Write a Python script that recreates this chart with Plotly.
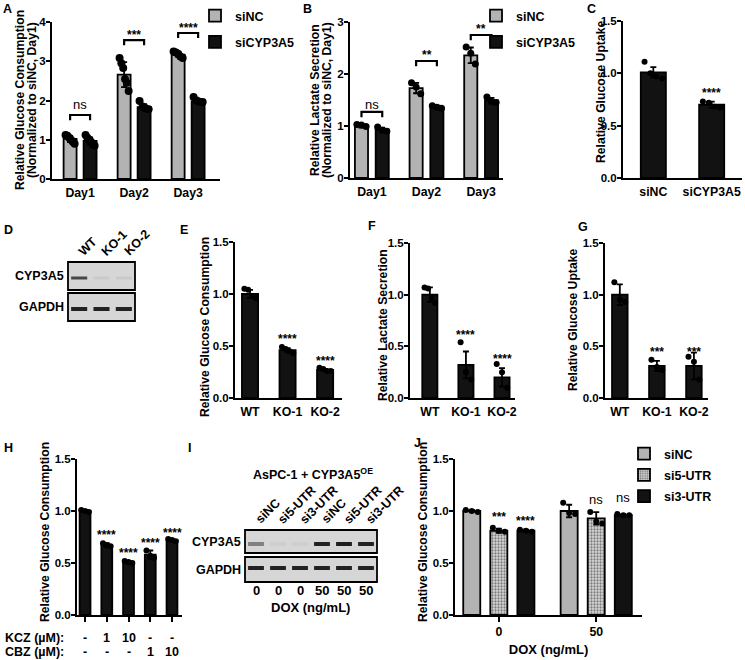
import plotly.graph_objects as go

W, H = 745, 660
FONT = "Arial, 'Liberation Sans', Helvetica, sans-serif"
GRAY = "#b3b3b3"
BLACK = "#121212"

# ---------------- data ----------------
A_days = ["Day1", "Day2", "Day3"]
A_siNC_mean = [1.02, 2.66, 3.17]
A_siNC_sd = [0.08, 0.32, 0.06]
A_siNC_pts = [[1.12, 1.10, 1.05, 1.00, 0.95, 0.90],
              [3.08, 2.95, 2.83, 2.55, 2.45, 2.24],
              [3.25, 3.22, 3.19, 3.12, 3.08]]
A_siCYP_mean = [0.97, 1.83, 1.98]
A_siCYP_sd = [0.09, 0.08, 0.05]
A_siCYP_pts = [[1.12, 1.05, 1.00, 0.95, 0.88, 0.85],
               [1.99, 1.85, 1.80, 1.78],
               [2.09, 2.00, 1.97, 1.96]]
A_sig = ["ns", "***", "****"]

B_days = ["Day1", "Day2", "Day3"]
B_siNC_mean = [1.00, 1.73, 2.36]
B_siNC_sd = [0.03, 0.10, 0.15]
B_siNC_pts = [[1.03, 1.02, 0.99], [1.83, 1.75, 1.62], [2.52, 2.40, 2.19]]
B_siCYP_mean = [0.93, 1.36, 1.49]
B_siCYP_sd = [0.04, 0.03, 0.05]
B_siCYP_pts = [[0.98, 0.92, 0.90], [1.39, 1.36, 1.34], [1.56, 1.47, 1.45]]
B_sig = ["ns", "**", "**"]

C_groups = ["siNC", "siCYP3A5"]
C_mean = [1.01, 0.70]
C_sd = [0.05, 0.03]
C_pts = [[1.11, 1.00, 0.97, 0.95], [0.73, 0.72, 0.68, 0.67]]
C_sig = ["", "****"]

KO_groups = ["WT", "KO-1", "KO-2"]
E_mean = [1.00, 0.46, 0.27]
E_sd = [0.04, 0.02, 0.01]
E_pts = [[1.05, 1.04, 0.98, 0.96], [0.49, 0.47, 0.45, 0.43], [0.29, 0.28, 0.26, 0.26]]
E_sig = ["", "****", "****"]

F_mean = [1.00, 0.32, 0.20]
F_sd = [0.07, 0.13, 0.09]
F_pts = [[1.07, 1.06, 0.97, 0.92], [0.54, 0.25, 0.18], [0.33, 0.25, 0.10]]
F_sig = ["", "****", "****"]

G_mean = [1.00, 0.31, 0.31]
G_sd = [0.10, 0.05, 0.13]
G_pts = [[1.12, 0.95, 0.93], [0.37, 0.30, 0.27], [0.40, 0.35, 0.18]]
G_sig = ["", "***", "***"]

H_mean = [1.00, 0.67, 0.51, 0.58, 0.72]
H_sd = [0.01, 0.02, 0.01, 0.04, 0.01]
H_pts = [[1.01, 1.00, 0.99], [0.69, 0.67, 0.66], [0.52, 0.51, 0.50],
         [0.62, 0.57, 0.55], [0.73, 0.72, 0.71]]
H_sig = ["", "****", "****", "****", "****"]
H_KCZ = ["-", "1", "10", "-", "-"]
H_CBZ = ["-", "-", "-", "1", "10"]

J_dox = ["0", "50"]
J_series = ["siNC", "si5-UTR", "si3-UTR"]
J_mean = [[1.00, 1.00], [0.81, 0.93], [0.81, 0.96]]
J_sd = [[0.01, 0.06], [0.02, 0.06], [0.01, 0.01]]
J_pts = [[[1.01, 1.00, 0.99], [1.08, 0.98, 0.97]],
         [[0.84, 0.81, 0.80], [0.99, 0.90, 0.88]],
         [[0.82, 0.81, 0.80], [0.97, 0.96, 0.96]]]
J_sig = [["", ""], ["***", "ns"], ["****", "ns"]]

D_lanes = ["WT", "KO-1", "KO-2"]
D_rows = ["CYP3A5", "GAPDH"]
D_bands = [[0.75, 0.06, 0.06], [0.95, 0.95, 0.95]]

I_lanes = ["siNC", "si5-UTR", "si3-UTR", "siNC", "si5-UTR", "si3-UTR"]
I_dox = ["0", "0", "0", "50", "50", "50"]
I_rows = ["CYP3A5", "GAPDH"]
I_bands = [[0.45, 0.04, 0.04, 0.95, 0.97, 0.95], [0.95, 0.95, 0.95, 0.95, 0.95, 0.95]]

# ---------------- helpers ----------------
def fx(p):
    return p / W


def fy(p):
    return 1 - p / H


def ref(n):
    return ("x" if n == 1 else f"x{n}"), ("y" if n == 1 else f"y{n}")


def bold(size):
    return dict(family=FONT, size=size, color="black", weight="bold")


traces = []
layout = {}
shapes = []
annots = []


def ytitle_annot(text, x, y):
    annots.append(dict(x=fx(x), y=fy(y), xref="paper", yref="paper", text=text,
                       textangle=-90, showarrow=False, font=bold(12.2), xanchor="center",
                       yanchor="middle"))


def make_axes(n, xl, xr, ytop, ybot, xrange, yrange, dtick, fmt, tickvals, ticktext,
              titles, xticks="", xtitle=None, show_xlabels=True):
    xk = "xaxis" if n == 1 else f"xaxis{n}"
    yk = "yaxis" if n == 1 else f"yaxis{n}"
    xr_, yr_ = ref(n)
    layout[xk] = dict(domain=[fx(xl), fx(xr)], range=xrange, anchor=yr_, showline=True,
                      linewidth=2, linecolor="black", ticks=xticks, ticklen=5, tickwidth=2,
                      tickcolor="black", tickvals=tickvals, ticktext=ticktext,
                      showticklabels=show_xlabels,
                      ticklabelstandoff=(-1 if xticks else 1),
                      tickfont=bold(12.3), showgrid=False, zeroline=False, fixedrange=True)
    if xtitle:
        layout[xk]["title"] = dict(text=xtitle, font=bold(13), standoff=7)
    layout[yk] = dict(domain=[fy(ybot), fy(ytop)], range=yrange, anchor=xr_, showline=True,
                      linewidth=2, linecolor="black", ticks="outside", ticklen=4, tickwidth=2,
                      tickcolor="black", dtick=dtick, tick0=0, tickformat=fmt,
                      ticklabelstandoff=-2,
                      tickfont=bold(11.5), showgrid=False, zeroline=False, fixedrange=True)
    for text, x, y in titles:
        ytitle_annot(text, x, y)


def jitter(c, k, spread):
    if k == 1:
        return [c]
    return [c - spread / 2 + spread * i / (k - 1) for i in range(k)]


def series(n, xs, means, sds, pts, color, width, dot, name="", legend=None, pattern=None):
    xr_, yr_ = ref(n)
    marker = dict(color=color, line=dict(color="black", width=1.8))
    if pattern:
        marker["pattern"] = pattern
    traces.append(go.Bar(x=xs, y=means, width=[width] * len(xs), marker=marker, name=name,
                         error_y=dict(type="data", array=sds, color="black", thickness=1.8, width=3),
                         xaxis=xr_, yaxis=yr_, showlegend=legend is not None,
                         legend=legend if legend else "legend",
                         legendgroup=f"{n}-{name}", hoverinfo="skip"))
    px_, py_ = [], []
    for x, p in zip(xs, pts):
        px_ += jitter(x, len(p), width * 0.7)
        py_ += p
    traces.append(go.Scatter(x=px_, y=py_, mode="markers", xaxis=xr_, yaxis=yr_,
                             marker=dict(color="black", size=dot), showlegend=False,
                             hoverinfo="skip"))


def sig_labels(n, xs, labels, ys):
    xr_, yr_ = ref(n)
    for x, t, y in zip(xs, labels, ys):
        if not t:
            continue
        if t == "ns":
            f = dict(family=FONT, size=13, color="black")
        else:
            f = bold(12)
        annots.append(dict(x=x, y=y, xref=xr_, yref=yr_, text=t, showarrow=False,
                           font=f, xanchor="center", yanchor="middle"))


def bracket(n, x0, x1, y, drop):
    xr_, yr_ = ref(n)
    shapes.append(dict(type="path", xref=xr_, yref=yr_,
                       path=f"M {x0},{y - drop} L {x0},{y} L {x1},{y} L {x1},{y - drop}",
                       line=dict(color="black", width=2.2)))


def letter(t, x, y):
    annots.append(dict(x=fx(x), y=fy(y), xref="paper", yref="paper", text=t, showarrow=False,
                       font=bold(12.5), xanchor="left", yanchor="middle"))


# ---------------- Panel A ----------------
idx = list(range(len(A_days)))
off, bw = 0.185, 0.24
make_axes(1, 52, 220, 22, 179, [-0.52, 2.59], [0, 4], 1, "d", idx, A_days,
          [("Relative Glucose Consumption", 20, 100), ("(Normalized to siNC, Day1)", 32, 100)])
series(1, [i - off for i in idx], A_siNC_mean, A_siNC_sd, A_siNC_pts, GRAY, bw, 8,
       "siNC", "legend")
series(1, [i + off for i in idx], A_siCYP_mean, A_siCYP_sd, A_siCYP_pts, BLACK, bw, 8,
       "siCYP3A5", "legend")
for i, yb in zip(idx, [1.63, 3.54, 3.72]):
    bracket(1, i - off, i + off, yb, 0.13)
sig_labels(1, idx, A_sig, [1.89, 3.67, 3.85])

# ---------------- Panel B ----------------
off, bw = 0.19, 0.24
make_axes(2, 350, 503, 22, 178, [-0.40, 2.40], [0, 3], 1, "d", idx, B_days,
          [("Relative Lactate Secretion", 315, 100), ("(Normalized to siNC, Day1)", 327, 100)])
series(2, [i - off for i in idx], B_siNC_mean, B_siNC_sd, B_siNC_pts, GRAY, bw, 7,
       "siNC", "legend2")
series(2, [i + off for i in idx], B_siCYP_mean, B_siCYP_sd, B_siCYP_pts, BLACK, bw, 7,
       "siCYP3A5", "legend2")
for i, yb in zip(idx, [1.27, 2.25, 2.75]):
    bracket(2, i - off, i + off, yb, 0.1)
sig_labels(2, idx, B_sig, [1.42, 2.36, 2.86])

# ---------------- Panel C ----------------
cidx = list(range(len(C_groups)))
make_axes(3, 623, 742, 21, 178, [-0.52, 1.52], [0, 1.5], 0.5, ".1f", cidx, C_groups,
          [("Relative Glucose Uptake", 601, 92)])
series(3, cidx, C_mean, C_sd, C_pts, BLACK, 0.43, 6)
sig_labels(3, cidx, C_sig, [0, 0.81])

# ---------------- Panels E, F, G ----------------
kidx = list(range(len(KO_groups)))
make_axes(4, 235, 342, 242, 398, [-0.40, 2.45], [0, 1.5], 0.5, ".1f", kidx, KO_groups,
          [("Relative Glucose Consumption", 205, 327)])
series(4, kidx, E_mean, E_sd, E_pts, BLACK, 0.43, 6)
sig_labels(4, kidx, E_sig, [0, 0.57, 0.36])

make_axes(5, 410, 515, 243, 398, [-0.55, 2.36], [0, 1.5], 0.5, ".1f", kidx, KO_groups,
          [("Relative Lactate Secretion", 383, 325)])
series(5, kidx, F_mean, F_sd, F_pts, BLACK, 0.42, 6)
sig_labels(5, kidx, F_sig, [0, 0.61, 0.38])

make_axes(6, 605, 708, 243, 398, [-0.40, 2.38], [0, 1.5], 0.5, ".1f", kidx, KO_groups,
          [("Relative Glucose Uptake", 573, 320)])
series(6, kidx, G_mean, G_sd, G_pts, BLACK, 0.42, 6)
sig_labels(6, kidx, G_sig, [0, 0.45, 0.45])

# ---------------- Panel H ----------------
hidx = list(range(len(H_mean)))
make_axes(7, 77, 182, 459, 615, [-0.37, 4.46], [0, 1.5], 0.5, ".1f", hidx,
          None, [("Relative Glucose Consumption", 45, 532)], xticks="outside",
          show_xlabels=False)
series(7, hidx, H_mean, H_sd, H_pts, BLACK, 0.5, 6)
sig_labels(7, hidx, H_sig, [0, 0.77, 0.60, 0.69, 0.79])
for lab, row, yy in [("KCZ (µM):", H_KCZ, 638), ("CBZ (µM):", H_CBZ, 652)]:
    annots.append(dict(x=fx(3), y=fy(yy), xref="paper", yref="paper", text=lab,
                       showarrow=False, font=bold(12.5), xanchor="left", yanchor="middle"))
    for i, v in zip(hidx, row):
        annots.append(dict(x=i, y=fy(yy), xref="x7", yref="paper", text=v, showarrow=False,
                           font=bold(12.5), xanchor="center", yanchor="middle"))

# ---------------- Panel J ----------------
jidx = list(range(len(J_dox)))
make_axes(8, 455, 642, 459, 615, [-0.45, 1.47], [0, 1.5], 0.5, ".1f", jidx, J_dox,
          [("Relative Glucose Consumption", 423, 532)], xticks="outside",
          xtitle="DOX (ng/mL)")
joff = [-0.278, 0.0, 0.278]
jfill = [GRAY, "#d0d0d0", BLACK]
jpat = [None, dict(shape=".", fgcolor="#222222", bgcolor="#d8d8d8", size=3, solidity=0.45), None]
for s, name in enumerate(J_series):
    xs = [g + joff[s] for g in jidx]
    series(8, xs, J_mean[s], J_sd[s], J_pts[s], jfill[s], 0.175, 6, name, "legend3", jpat[s])
J_lab_y = [[0, 0], [0.94, 1.11], [0.90, 1.13]]
for s in range(len(J_series)):
    sig_labels(8, [g + joff[s] for g in jidx], J_sig[s], J_lab_y[s])

# ---------------- Western blots (D, I) ----------------
def blot(n, lanes, rows, bands, xl, xr, boxes, band_y, band_h, row_lab_x):
    xr_, yr_ = ref(n)
    k = len(lanes)
    layout[f"xaxis{n}"] = dict(domain=[fx(xl), fx(xr)], range=[-0.5, k - 0.5], visible=False,
                               anchor=yr_, fixedrange=True)
    layout[f"yaxis{n}"] = dict(domain=[fy(boxes[-1][1]), fy(boxes[0][0])], range=[0, 1],
                               visible=False, anchor=xr_, fixedrange=True)
    traces.append(go.Scatter(x=list(range(k)), y=[0.5] * k, mode="markers", xaxis=xr_, yaxis=yr_,
                             marker=dict(opacity=0), showlegend=False, hoverinfo="skip"))
    for (t, b), rowname, inten, by, bh in zip(boxes, rows, bands, band_y, band_h):
        shapes.append(dict(type="rect", xref="paper", yref="paper", x0=fx(xl), x1=fx(xr),
                           y0=fy(b), y1=fy(t), fillcolor="#d6d6d6",
                           line=dict(color="black", width=1.8), layer="below"))
        for i, v in enumerate(inten):
            g = int(214 - (214 - 25) * v)
            shapes.append(dict(type="rect", xref=xr_, yref="paper", x0=i - 0.36, x1=i + 0.36,
                               y0=fy(by + bh / 2), y1=fy(by - bh / 2),
                               fillcolor=f"rgb({g},{g},{g})", line=dict(width=0)))
        annots.append(dict(x=fx(row_lab_x), y=fy((t + b) / 2), xref="paper", yref="paper",
                           text=rowname, showarrow=False, font=bold(12.5), xanchor="right",
                           yanchor="middle"))
    for i, lab in enumerate(lanes):
        annots.append(dict(x=i - 0.25, y=fy(boxes[0][0] - 1), xref=xr_, yref="paper", text=lab,
                           textangle=-45, showarrow=False, font=bold(12.5), xanchor="left",
                           yanchor="bottom"))


blot(9, D_lanes, D_rows, D_bands, 68, 135, [(262, 290), (293, 321)], [278, 309], [3, 4], 66)
blot(10, I_lanes, I_rows, I_bands, 245, 377, [(530, 553), (557, 582)], [544, 568], [4, 4], 243)
for i, v in enumerate(I_dox):
    annots.append(dict(x=i, y=fy(590), xref="x10", yref="paper", text=v, showarrow=False,
                       font=bold(13), xanchor="center", yanchor="middle"))
annots.append(dict(x=fx(310), y=fy(607), xref="paper", yref="paper", text="DOX (ng/mL)",
                   showarrow=False, font=bold(13), xanchor="center", yanchor="middle"))
annots.append(dict(x=fx(313), y=fy(474), xref="paper", yref="paper",
                   text="AsPC-1 + CYP3A5<sup>OE</sup>", showarrow=False, font=bold(12.5),
                   xanchor="center", yanchor="middle"))

# ---------------- panel letters ----------------
for t, x, y in [("A", 1, 9), ("B", 301, 9), ("C", 585, 9), ("D", 2, 230), ("E", 178, 230),
                ("F", 366, 226), ("G", 576, 227), ("H", 2, 448), ("I", 186, 448),
                ("J", 412, 443)]:
    letter(t, x, y)

leg = dict(font=bold(12.5), bgcolor="rgba(0,0,0,0)", xanchor="left", yanchor="top",
           tracegroupgap=7, traceorder="grouped", itemclick=False, itemdoubleclick=False)
layout["legend"] = dict(leg, x=fx(195), y=fy(1))
layout["legend2"] = dict(leg, x=fx(476), y=fy(1))
layout["legend3"] = dict(leg, x=fx(624), y=fy(439), tracegroupgap=2)

fig = go.Figure(data=traces)
fig.update_layout(width=W, height=H, margin=dict(l=0, r=0, t=0, b=0, autoexpand=False),
                  autosize=False,
                  paper_bgcolor="white", plot_bgcolor="white", barmode="overlay",
                  font=dict(family=FONT, color="black"), shapes=shapes, annotations=annots,
                  **layout)
fig.write_html("out.html", config={"displayModeBar": False, "staticPlot": False},
               post_script="document.body.style.margin='0';document.body.style.padding='0';"
                           "document.body.style.overflow='hidden';")
